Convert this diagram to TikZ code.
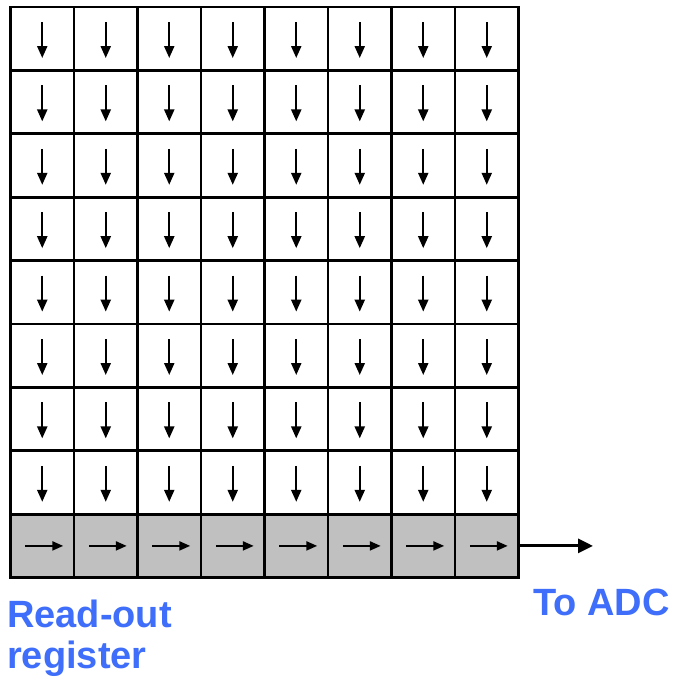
\documentclass[tikz,border=0pt]{standalone}
\usepackage{fontspec}
\setmainfont{Liberation Sans}
\usetikzlibrary{arrows.meta}
\definecolor{lblblue}{RGB}{62,110,250}
\definecolor{regray}{RGB}{192,192,192}
\tikzset{
  cell/.style={draw=black, line width=2.8pt, minimum width=63.5pt, minimum height=63.4pt, inner sep=0pt, outer sep=0pt, fill=white},
  regcell/.style={cell, fill=regray},
  varrow/.style={line width=2.2pt, -{Triangle[length=12pt,width=10pt]}},
  harrow/.style={line width=2.2pt, -{Triangle[length=11pt,width=9pt]}},
  outarrow/.style={line width=3pt, -{Triangle[length=15pt,width=14pt]}},
  lbl/.style={font=\bfseries\fontsize{38}{40}\selectfont, text=lblblue, inner sep=0pt, anchor=base west}
}
\begin{document}
\begin{tikzpicture}[x=1pt, y=-1pt]
\useasboundingbox (0,0) rectangle (675,681);
\foreach \i in {1,...,8} {
  \foreach \j in {1,...,8} {
    \node[cell] (c-\i-\j) at ({10.5+63.5*(\j-0.5)}, {7+63.4*(\i-0.5)}) {};
    \draw[varrow] ([yshift=16.7pt]c-\i-\j.center) -- ([yshift=-19.3pt]c-\i-\j.center);
  }
}
\foreach \j in {1,...,8} {
  \node[regcell] (r-\j) at ({10.5+63.5*(\j-0.5)}, {7+63.4*8.5}) {};
  \draw[harrow] ([xshift=-17pt]r-\j.center) -- ([xshift=21pt]r-\j.center);
}
\coordinate (adc) at (593, {7+63.4*8.5});
\draw[outarrow] (r-8.east) -- (adc);
\node[lbl] (ro1) at (7,627) {Read-out};
\node[lbl] (ro2) at (7,668) {register};
\node[lbl] (toadc) at (533,615) {To ADC};
\end{tikzpicture}
\end{document}
